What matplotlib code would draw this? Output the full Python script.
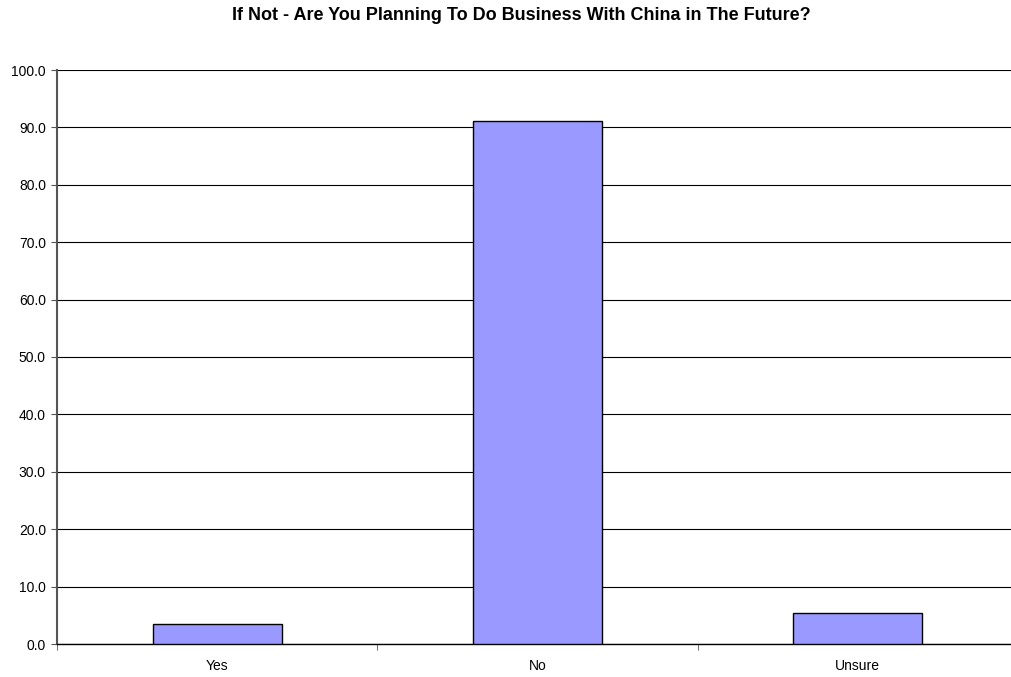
import matplotlib
matplotlib.use("Agg")
import matplotlib.pyplot as plt
import numpy as np

plt.rcParams['font.family'] = ['Liberation Sans', 'DejaVu Sans']

categories = ["Yes", "No", "Unsure"]
values = [3.4, 91.2, 5.4]
title = "If Not - Are You Planning To Do Business With China in The Future?"
y_ticks = np.arange(0, 101, 10)

fig = plt.figure(figsize=(10.11, 6.77), dpi=100)
ax = fig.add_axes([57 / 1011, 1 - 644 / 677, 961 / 1011, 574 / 677])

x = np.arange(len(categories))
ax.bar(x, values, width=0.403, color="#9999FF", edgecolor="black", linewidth=1.0, zorder=3)

ax.set_xlim(-0.5, len(categories) - 0.5)
ax.set_ylim(0, 100)
ax.set_yticks(y_ticks)
ax.set_yticklabels([f"{v:.1f}" for v in y_ticks], fontsize=10)
ax.yaxis.grid(True, color="black", linewidth=0.8, zorder=0)
ax.set_axisbelow(True)

# category labels centred, tick marks between categories
ax.set_xticks(x)
ax.set_xticklabels(categories, fontsize=10)
ax.tick_params(axis="x", length=0, pad=11)
ax.set_xticks(np.arange(-0.5, len(categories) + 0.5, 1), minor=True)
ax.tick_params(axis="x", which="minor", length=4, direction="out", color="#555555")
ax.tick_params(axis="y", length=4, direction="out", color="#555555", pad=4)

for side in ("top", "right"):
    ax.spines[side].set_visible(False)
ax.spines["left"].set_color("#555555")
ax.spines["left"].set_linewidth(1.5)
ax.spines["bottom"].set_color("black")
ax.spines["bottom"].set_linewidth(1.0)

fig.text(521 / 1011, 1 - 15 / 677, title, ha="center", va="center",
         fontsize=13, fontweight="bold")

fig.savefig("out.png", dpi=100)
